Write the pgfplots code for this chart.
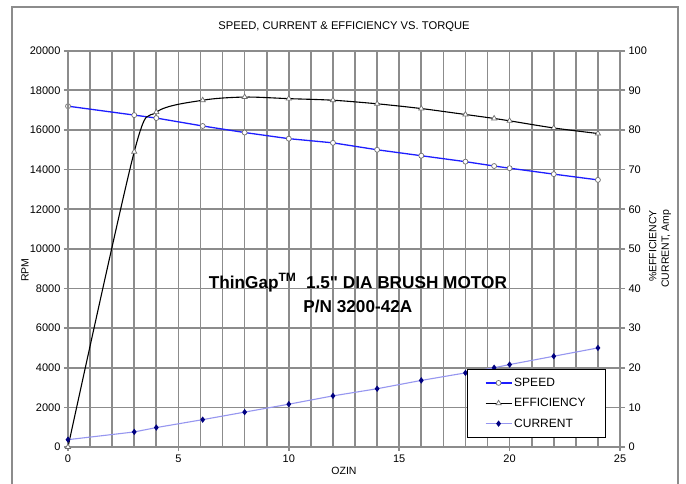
\documentclass[border=0pt]{standalone}
\usepackage{fontspec}
\setmainfont{Liberation Sans}
\newfontfamily\plainsans{Liberation Sans}
\usepackage{pgfplots}
\pgfplotsset{compat=1.18}

\definecolor{gridgray}{RGB}{140,140,140}
\definecolor{speedblue}{RGB}{30,30,255}
\definecolor{curline}{RGB}{150,150,240}
\definecolor{curmark}{RGB}{0,0,128}
\definecolor{markedge}{RGB}{110,110,110}

\pgfplotsset{
  motorbase/.style={
    scale only axis, width=552pt, height=396.3pt,
    at={(68pt,37pt)}, anchor=south west,
    xmin=0, xmax=25,
    axis line style={gridgray, line width=1.7pt},
    tick style={gridgray, line width=1.7pt},
    tick align=outside,
    /pgf/number format/assume math mode=true,
    /pgf/number format/set thousands separator={},
    scaled y ticks=false,
    tick label style={font=\fontsize{11}{13}\selectfont},
    label style={font=\fontsize{10.5}{12.5}\selectfont},
  },
}

\begin{document}
\begin{tikzpicture}
\useasboundingbox (0,0) rectangle (686pt,484pt);
\fill[white] (0,0) rectangle (686pt,484pt);
\draw[gridgray, line width=1.2pt] (12pt,0) -- (12pt,477pt) -- (678pt,477pt) -- (678pt,0);

% left axis: speed (RPM)
\begin{axis}[
  motorbase,
  ymin=0, ymax=20000,
  xtick={0,5,...,25}, minor xtick={0,1,...,25},
  ytick={0,2000,...,20000},
  xtick pos=left, ytick pos=left,
  major tick length=4pt, minor tick length=0pt,
  grid=both,
  major grid style={gridgray, line width=1.7pt},
  minor grid style={gridgray, line width=1.7pt},
  title={SPEED, CURRENT \& EFFICIENCY VS. TORQUE},
  title style={at={(axis description cs:0.5,1.0447)}, anchor=center,
    font=\fontsize{11.2}{13}\selectfont},
  xlabel={OZIN},
  xlabel style={at={(axis description cs:0.5,-0.0606)}, anchor=center},
  ylabel={RPM},
  ylabel style={at={(axis description cs:-0.0779,0.4466)}, anchor=center, rotate=0},
]
\addplot[speedblue, line width=1.3pt, mark=*, mark size=2.5pt,
  mark options={fill=white, draw=markedge, line width=0.7pt}] coordinates {
  (0,17200) (3,16750) (4,16600) (6.1,16200) (8,15870) (10,15560) (12,15350)
  (14,15000) (16,14700) (18,14400) (19.3,14180) (20,14070) (22,13770) (24,13480)
};
\node[align=center, font=\fontsize{17.2}{24}\selectfont\bfseries]
  at (axis cs:13.13,7770)
  {ThinGap\textsuperscript{TM}\ \ 1.5{\plainsans\bfseries "}\ DIA BRUSH MOTOR\\P/N 3200-42A};
\end{axis}

% right axis: efficiency and current
\begin{axis}[
  motorbase,
  ymin=0, ymax=100,
  ytick={0,10,...,100},
  hide x axis,
  ytick pos=right, yticklabel pos=right,
  major tick length=5pt,
  ylabel={\%EFFICIENCY\\CURRENT, Amp},
  ylabel style={at={(axis description cs:1.0725,0.5)}, anchor=center, align=right},
  legend cell align=left,
  legend image code/.code={
    \draw[mark repeat=2, mark phase=2] plot coordinates {(0pt,0pt) (13pt,0pt) (26pt,0pt)};
  },
  legend style={at={(axis description cs:0.9746,0.0227)}, anchor=south east,
    draw=black, line width=0.8pt, fill=white,
    font=\fontsize{12}{14}\selectfont,
    inner xsep=18pt, inner ysep=7pt, row sep=6.5pt},
]
\addlegendimage{speedblue, line width=1.3pt, mark=*, mark size=2.5pt,
  mark options={fill=white, draw=markedge, line width=0.7pt}}
\addlegendentry{SPEED}
\addplot[black, line width=1.1pt, smooth, mark=triangle*, mark size=3pt,
  mark options={fill=white, draw=markedge, line width=0.7pt}] coordinates {
  (0,0) (3,74.5) (4,84.5) (6.1,87.5) (8,88.3) (10,87.9) (12,87.5)
  (14,86.6) (16,85.4) (18,83.9) (19.3,82.9) (20,82.3) (22,80.5) (24,79.1)
};
\addlegendentry{EFFICIENCY}
\addplot[curline, line width=1.1pt, mark=diamond*, mark size=2.3pt,
  mark options={fill=curmark, draw=curmark}] coordinates {
  (0,1.85) (3,3.8) (4,4.9) (6.1,6.9) (8,8.8) (10,10.8) (12,12.9)
  (14,14.7) (16,16.8) (18,18.7) (19.3,20.0) (20,20.8) (22,22.9) (24,25.0)
};
\addlegendentry{CURRENT}
\end{axis}
\end{tikzpicture}
\end{document}
